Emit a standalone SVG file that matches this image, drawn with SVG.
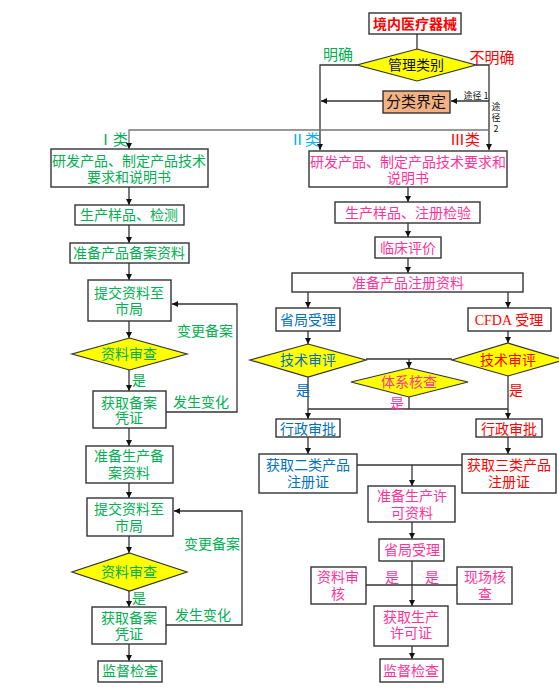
<svg xmlns="http://www.w3.org/2000/svg" width="559" height="689" viewBox="0 0 559 689">
<defs>
<marker id="ah" viewBox="0 0 10 10" refX="10" refY="5" markerWidth="6" markerHeight="6" markerUnits="userSpaceOnUse" orient="auto">
<path d="M0,0 L10,5 L0,10 z" fill="#111"/>
</marker>
<style>
text{font-family:"Noto Sans CJK SC","Noto Sans",sans-serif;font-size:14px;text-anchor:middle}
.box{fill:#fff;stroke:#333;stroke-width:1.4}
.dia{fill:#ffff00;stroke:#333;stroke-width:1.2}
.ln{fill:none;stroke:#333;stroke-width:1.3}
.ar{fill:none;stroke:#333;stroke-width:1.3;marker-end:url(#ah)}
.g{fill:#00b050}.b{fill:#0070c0}.p{fill:#ff3399}.r{fill:#ff0000}.c{fill:#00b0f0}.k{fill:#111}
.sm{font-size:9px}
</style>
</defs>
<rect width="559" height="689" fill="#fff"/>
<g id="connectors">
<path class="ln" d="M417,34 V49"/>
<path class="ar" d="M357,65 H320 V150"/>
<path class="ar" d="M476,65 H489 V150"/>
<path class="ar" d="M489,101 H451"/>
<path class="ar" d="M383,101 H321"/>
<path class="ar" d="M489,130 H129 V149" style="stroke:#777"/>
<path class="ar" d="M129,187 V205"/>
<path class="ar" d="M129,225 V243"/>
<path class="ar" d="M129,263 V280"/>
<path class="ar" d="M129,321 V338"/>
<path class="ar" d="M129,370 V391"/>
<path class="ar" d="M129,428 V446"/>
<path class="ar" d="M129,483 V498"/>
<path class="ar" d="M129,536 V553"/>
<path class="ar" d="M129,591 V607"/>
<path class="ar" d="M129,644 V661"/>
<path class="ar" d="M166,412 H237 V304 H172"/>
<path class="ar" d="M166,625 H242 V511 H174"/>
<path class="ar" d="M408,187 V202"/>
<path class="ar" d="M408,223 V237"/>
<path class="ar" d="M408,258 V273"/>
<path class="ar" d="M308,292 V308"/>
<path class="ar" d="M508,292 V308"/>
<path class="ar" d="M308,331 V344"/>
<path class="ar" d="M508,331 V343"/>
<path class="ln" d="M366,359 H452"/>
<path class="ar" d="M409,359 V368"/>
<path class="ar" d="M308,377 V419"/>
<path class="ar" d="M508,376 V419"/>
<path class="ln" d="M308,409 H508"/>
<path class="ln" d="M409,397 V409"/>
<path class="ar" d="M308,437 V454"/>
<path class="ar" d="M508,437 V454"/>
<path class="ln" d="M357,465 H462"/>
<path class="ar" d="M412,465 V486"/>
<path class="ar" d="M412,522 V539"/>
<path class="ar" d="M412,561 V606"/>
<path class="ln" d="M366,585 H457"/>
<path class="ar" d="M412,646 V659"/>
</g>
<g id="labels">
<text class="g" x="338" y="60" style="font-size:15px">明确</text>
<text class="r" x="492" y="63" style="font-size:15px">不明确</text>
<text class="k sm" x="476" y="99">途径 1</text>
<text class="k sm" x="496" y="110"><tspan x="496" y="110">途</tspan><tspan x="496" y="121">径</tspan><tspan x="496" y="132">2</tspan></text>
<text class="g" x="113" y="145" style="font-size:15px">Ⅰ类</text>
<text class="c" x="305" y="145" style="font-size:15px">Ⅱ类</text>
<text class="r" x="465" y="145" style="font-size:15px">Ⅲ类</text>
<text class="g" x="139" y="385">是</text>
<text class="g" x="205" y="336">变更备案</text>
<text class="g" x="201" y="407">发生变化</text>
<text class="g" x="139" y="603">是</text>
<text class="g" x="212" y="549">变更备案</text>
<text class="g" x="203" y="620">发生变化</text>
<text class="b" x="303" y="395">是</text>
<text class="r" x="516" y="395">是</text>
<text class="p" x="397" y="408">是</text>
<text class="p" x="392" y="582">是</text>
<text class="p" x="432" y="582">是</text>
</g>
<g id="n-start"><rect class="box" x="369" y="13" width="92" height="21"/><text class="r" x="415" y="29" style="font-weight:bold">境内医疗器械</text></g>
<g id="n-mgmt"><polygon class="dia" points="417,49 476,65 417,81 357,65"/><text class="k" x="416" y="70">管理类别</text></g>
<g id="n-classify"><rect x="383" y="91" width="67" height="22" fill="#f4b183" stroke="#333" stroke-width="1.4"/><text class="k" x="416" y="107" style="font-size:15px">分类界定</text></g>
<g id="n-l1"><rect class="box" x="51" y="149" width="157" height="38"/><text class="g"><tspan x="129" y="166">研发产品、制定产品技术</tspan><tspan x="129" y="182">要求和说明书</tspan></text></g>
<g id="n-l2"><rect class="box" x="75" y="205" width="109" height="20"/><text class="g" x="129" y="220">生产样品、检测</text></g>
<g id="n-l3"><rect class="box" x="70" y="243" width="119" height="20"/><text class="g" x="129" y="258">准备产品备案资料</text></g>
<g id="n-l4"><rect class="box" x="88" y="280" width="83" height="41"/><text class="g"><tspan x="129" y="298">提交资料至</tspan><tspan x="129" y="314">市局</tspan></text></g>
<g id="n-l5"><polygon class="dia" points="129.5,338 187,354 129.5,370 72,354"/><text class="g" x="129" y="359">资料审查</text></g>
<g id="n-l6"><rect class="box" x="93" y="391" width="73" height="37"/><text class="g"><tspan x="129" y="408">获取备案</tspan><tspan x="129" y="423">凭证</tspan></text></g>
<g id="n-l7"><rect class="box" x="86" y="446" width="87" height="37"/><text class="g"><tspan x="129" y="461">准备生产备</tspan><tspan x="129" y="478">案资料</tspan></text></g>
<g id="n-l8"><rect class="box" x="87" y="498" width="86" height="38"/><text class="g"><tspan x="129" y="514">提交资料至</tspan><tspan x="129" y="531">市局</tspan></text></g>
<g id="n-l9"><polygon class="dia" points="129.5,553 187,572 129.5,591 72,572"/><text class="g" x="129" y="577">资料审查</text></g>
<g id="n-l10"><rect class="box" x="92" y="607" width="74" height="37"/><text class="g"><tspan x="129" y="623">获取备案</tspan><tspan x="129" y="639">凭证</tspan></text></g>
<g id="n-l11"><rect class="box" x="98" y="661" width="64" height="21"/><text class="g" x="130" y="676">监督检查</text></g>
<g id="n-r1"><rect class="box" x="309" y="151" width="198" height="36"/><text class="p"><tspan x="408" y="167">研发产品、制定产品技术要求和</tspan><tspan x="408" y="183">说明书</tspan></text></g>
<g id="n-r2"><rect class="box" x="335" y="202" width="145" height="21"/><text class="p" x="408" y="218">生产样品、注册检验</text></g>
<g id="n-r3"><rect class="box" x="375" y="237" width="66" height="21"/><text class="p" x="408" y="253">临床评价</text></g>
<g id="n-r4"><rect class="box" x="292" y="273" width="231" height="19"/><text class="p" x="408" y="288">准备产品注册资料</text></g>
<g id="n-r5"><rect class="box" x="276" y="308" width="64" height="23"/><text class="b" x="308" y="325">省局受理</text></g>
<g id="n-r6"><rect class="box" x="468" y="308" width="83" height="23"/><text class="r" x="509" y="325"><tspan style="font-family:'Liberation Serif',serif">CFDA</tspan> 受理</text></g>
<g id="n-r7"><polygon class="dia" points="308,344 366,360 308,377 250,360"/><text class="b" x="308" y="365">技术审评</text></g>
<g id="n-r8"><polygon class="dia" points="508,343 564,360 508,376 452,360"/><text class="r" x="508" y="365">技术审评</text></g>
<g id="n-r9"><polygon class="dia" points="409,368 468,382 409,397 351,382"/><text class="p" x="409" y="387">体系核查</text></g>
<g id="n-r10"><rect class="box" x="276" y="419" width="64" height="18"/><text class="b" x="308" y="434">行政审批</text></g>
<g id="n-r11"><rect class="box" x="476" y="419" width="66" height="18"/><text class="r" x="509" y="434">行政审批</text></g>
<g id="n-r12"><rect class="box" x="259" y="454" width="98" height="39"/><text class="b"><tspan x="308" y="470">获取二类产品</tspan><tspan x="308" y="487">注册证</tspan></text></g>
<g id="n-r13"><rect class="box" x="462" y="454" width="94" height="39"/><text class="r"><tspan x="509" y="470">获取三类产品</tspan><tspan x="509" y="487">注册证</tspan></text></g>
<g id="n-r14"><rect class="box" x="368" y="486" width="87" height="36"/><text class="p"><tspan x="412" y="501">准备生产许</tspan><tspan x="412" y="518">可资料</tspan></text></g>
<g id="n-r15"><rect class="box" x="379" y="539" width="65" height="22"/><text class="p" x="412" y="555">省局受理</text></g>
<g id="n-r16"><rect class="box" x="311" y="567" width="55" height="37"/><text class="p"><tspan x="338" y="582">资料审</tspan><tspan x="338" y="599">核</tspan></text></g>
<g id="n-r17"><rect class="box" x="457" y="567" width="55" height="37"/><text class="p"><tspan x="485" y="582">现场核</tspan><tspan x="485" y="599">查</tspan></text></g>
<g id="n-r18"><rect class="box" x="374" y="606" width="74" height="40"/><text class="p"><tspan x="411" y="622">获取生产</tspan><tspan x="411" y="638">许可证</tspan></text></g>
<g id="n-r19"><rect class="box" x="380" y="659" width="63" height="23"/><text class="p" x="411" y="676">监督检查</text></g>
</svg>
